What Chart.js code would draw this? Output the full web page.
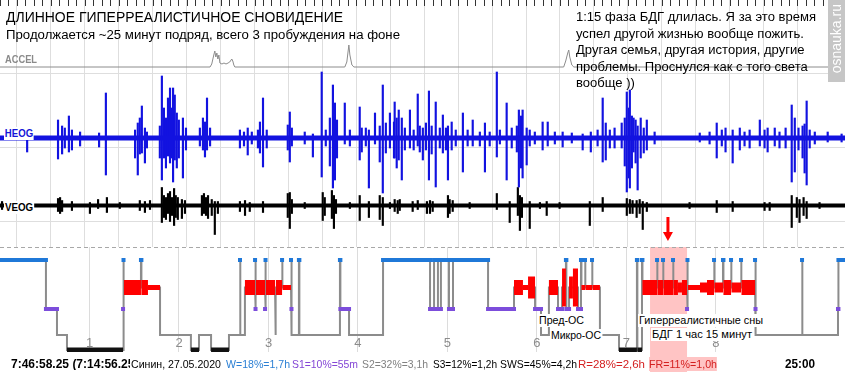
<!DOCTYPE html>
<html>
<head>
<meta charset="utf-8">
<script src="https://cdn.jsdelivr.net/npm/chart.js@4.4.0/dist/chart.umd.min.js"></script>
<style>
body { margin: 0; width: 845px; height: 372px; overflow: hidden; background: #fff; position: relative;
       font-family: "Liberation Sans", Arial, sans-serif; }
canvas { position: absolute; left: 0; }
.t { position: absolute; white-space: nowrap; line-height: 1; transform-origin: 0 0; }
.lab { font-weight: bold; font-size: 11px; line-height: 11px; }
.hl { font-size: 11px; line-height: 13px; background: #fff; padding: 0 1px; }
.bt { font-size: 11px; line-height: 11px; top: 359px; }
#wm { position: absolute; left: 828px; top: 0; width: 17px; height: 82px; background: #c6c6c6; }
#wm span { position: absolute; left: 1px; top: 4px; writing-mode: vertical-rl; transform: rotate(180deg);
           color: #fff; font-size: 14px; line-height: 15px; }
</style>
</head>
<body>
<canvas id="eog" width="845" height="247" style="top:0"></canvas>
<canvas id="hyp" width="845" height="160" style="top:212px"></canvas>

<div class="t" data-w="337" style="left:6px;top:10px;font-size:14px">ДЛИННОЕ ГИПЕРРЕАЛИСТИЧНОЕ СНОВИДЕНИЕ</div>
<div class="t" data-w="394" style="left:6px;top:29px;font-size:12px">Продолжается ~25 минут подряд, всего 3 пробуждения на фоне</div>
<div class="t" data-w="240" style="left:576px;top:9px;font-size:12px;line-height:16.6px">1:15 фаза БДГ длилась. Я за это время<br>успел другой жизнью вообще пожить.<br>Другая семья, другая история, другие<br>проблемы. Проснулся как с того света<br>вообще ))</div>
<div class="t lab" data-w="32" style="left:5px;top:54px;color:#8a8a8a">ACCEL</div>
<div class="t lab" data-w="30" style="left:4px;top:127px;color:#1414d8;background:#fff;padding:1px 1px">HEOG</div>
<div class="t lab" data-w="30" style="left:4px;top:201px;color:#000;background:#fff;padding:1px 1px">VEOG</div>
<div id="wm"><span>osnauka.ru</span></div>

<div class="t hl" data-w="47" style="left:538px;top:314px">Пред-ОС</div>
<div class="t hl" data-w="52" style="left:550px;top:329px">Микро-ОС</div>
<div class="t hl" data-w="126" style="left:638px;top:314px">Гиперреалистичные сны</div>
<div class="t hl" data-w="102" style="left:651px;top:328px">БДГ 1 час 15 минут</div>

<div class="t bt" style="left:11px;width:119px;overflow:hidden;font-weight:bold;font-size:12px;line-height:12px;top:358px">7:46:58.25 (7:14:56.25)</div>
<div class="t bt" data-w="90" style="left:131px;background:#fff">Синин, 27.05.2020</div>
<div class="t bt" data-w="64" style="left:226px;color:#2a7fd4">W=18%=1,7h</div>
<div class="t bt" data-w="66" style="left:292px;color:#8446d6">S1=10%=55m</div>
<div class="t bt" data-w="66" style="left:362px;color:#808080">S2=32%=3,1h</div>
<div class="t bt" data-w="64" style="left:433px;color:#000">S3=12%=1,2h</div>
<div class="t bt" data-w="77" style="left:500px;color:#000">SWS=45%=4,2h</div>
<div class="t bt" data-w="67" style="left:578px;color:#d42020">R=28%=2,6h</div>
<div class="t bt" data-w="68" style="left:649px;color:#d42020;background:#ffc4c4;padding:2px 0 1px 0;top:357px">FR=11%=1,0h</div>
<div class="t bt" data-w="30" style="left:785px;font-weight:bold;font-size:12px;line-height:12px;top:358px">25:00</div>

<script>
// ---- upper window, time in minutes from the window start ----
const WIN = 24.9;
const TICK_STEP = 0.25;   // 15 s marks along the top edge

const accelT   = [0, 6.19, 6.24, 6.30, 6.33, 6.36, 6.39, 6.42, 6.45, 6.48, 6.54, 6.60, 6.66, 6.72, 6.77, 6.83, 6.86, 6.89, 6.92,
                  10.16, 10.22, 10.28, 10.31, 10.37, 10.43, 16.61, 16.67, 16.73, 16.76, 16.79, 16.85, 16.91, 24.9];
const accelAmp = [0, 0, 3, 12, 16, 10, 14, 8, 12, 4, 3, 4, 3, 4, 5, 8, 6, 2, 0,
                  0, 5, 22, 12, 2, 0, 0, 6, 14, 17, 10, 2, 0, 0];

const heogT  = [0.80, 1.71, 1.83, 1.91, 2.03, 2.12, 2.36, 2.92, 3.12, 3.98, 4.06, 4.12, 4.18, 4.27, 4.33, 4.71, 4.77, 4.83, 4.89, 4.95,
                5.01, 5.07, 5.10, 5.15, 5.21, 5.27, 5.39, 5.48, 5.89, 5.98, 6.04, 6.10, 6.19, 7.07, 7.19, 7.30, 7.42, 7.60, 7.66, 7.75,
                7.86, 8.48, 8.54, 8.60, 8.98, 9.22, 9.48, 9.60, 9.72, 9.81, 9.87, 9.93, 10.16, 10.31, 10.60, 10.66, 10.78, 10.87, 11.05, 11.19,
                11.28, 11.37, 11.49, 11.61, 11.63, 11.69, 11.75, 11.84, 11.93, 12.08, 12.19, 12.31, 12.37, 12.46, 12.55, 12.64, 12.72, 12.84, 12.96, 13.05,
                13.14, 13.20, 13.31, 13.43, 13.64, 13.78, 13.93, 14.14, 14.29, 14.43, 14.64, 14.73, 14.93, 15.08, 15.23, 15.29, 15.35, 15.40, 15.52, 15.61,
                15.76, 15.99, 16.14, 16.35, 16.58, 16.85, 17.17, 17.41, 17.61, 17.76, 17.85, 17.97, 18.11, 18.32, 18.41, 18.47, 18.53, 18.56, 18.62, 18.67,
                18.73, 18.79, 18.88, 18.97, 19.06, 19.29, 20.62, 20.91, 21.12, 21.27, 21.38, 21.59, 21.80, 21.94, 22.09, 22.39, 22.53, 22.62, 22.83, 22.97,
                23.15, 23.33, 23.42, 23.53, 23.65, 23.71, 23.77, 23.86, 24.01, 24.39, 24.80];
const heogUp = [4, 18, 12, 10, 22, 8, 6, 5, 45, 8, 15, 20, 32, 10, 6, 12, 62, 30, 20, 40,
                50, 30, 50, 43, 25, 18, 20, 10, 10, 20, 16, 40, 10, 8, 6, 10, 6, 8, 16, 40,
                8, 13, 26, 10, 6, 4, 66, 8, 20, 53, 35, 18, 35, 8, 31, 10, 10, 8, 25, 12,
                53, 15, 25, 16, 36, 20, 28, 20, 10, 28, 8, 44, 12, 10, 15, 47, 12, 36, 10, 23,
                10, 12, 16, 8, 25, 8, 18, 6, 15, 6, 66, 8, 35, 10, 12, 28, 22, 28, 10, 8,
                6, 16, 16, 6, 6, 5, 4, 6, 8, 40, 15, 8, 10, 15, 20, 46, 30, 48, 22, 20,
                18, 12, 20, 10, 18, 6, 5, 6, 15, 8, 10, 8, 10, 6, 8, 18, 8, 10, 10, 6,
                10, 33, 20, 10, 12, 14, 37, 8, 6, 6, 4];
const heogDn = [14, 21, 16, 10, 14, 12, 8, 9, 37, 20, 37, 16, 15, 25, 10, 20, 42, 20, 30, 18,
                25, 20, 44, 22, 30, 20, 40, 12, 8, 12, 19, 12, 8, 10, 8, 17, 6, 10, 15, 29,
                10, 12, 24, 8, 6, 19, 39, 8, 28, 50, 42, 20, 6, 8, 22, 14, 8, 50, 6, 24,
                55, 15, 10, 20, 20, 30, 22, 42, 12, 10, 12, 8, 14, 22, 12, 42, 16, 49, 10, 15,
                12, 42, 12, 8, 34, 8, 8, 8, 34, 8, 19, 6, 42, 10, 14, 49, 30, 40, 27, 8,
                6, 12, 8, 6, 9, 5, 12, 14, 8, 24, 22, 10, 10, 10, 28, 54, 40, 50, 30, 14,
                25, 52, 20, 15, 12, 6, 4, 6, 20, 8, 14, 25, 12, 8, 10, 8, 10, 14, 8, 10,
                10, 44, 34, 12, 20, 35, 47, 10, 6, 4, 4];

const veogT  = [0.06, 1.71, 1.77, 1.83, 2.12, 2.65, 2.89, 3.15, 3.53, 4.12, 4.27, 4.42, 4.77, 4.83, 4.89, 4.95, 5.01, 5.07, 5.13, 5.18,
                5.24, 5.36, 5.45, 5.95, 6.01, 6.07, 6.13, 6.24, 6.33, 6.42, 7.07, 7.22, 7.36, 7.75, 8.48, 8.54, 8.60, 8.98, 9.51, 9.57,
                9.78, 9.84, 9.90, 10.31, 10.60, 10.87, 11.19, 11.28, 11.49, 11.63, 11.72, 11.78, 12.16, 12.31, 12.58, 12.67, 12.75, 13.20, 13.25, 13.34,
                13.84, 14.64, 15.02, 15.26, 15.32, 15.38, 15.61, 15.91, 16.11, 16.49, 17.38, 17.76, 18.47, 18.56, 18.64, 18.76, 18.85, 18.94, 19.06, 20.32,
                21.12, 21.59, 22.53, 22.68, 23.33, 23.48, 23.56, 23.68, 23.77, 24.15];
const veogUp = [4, 7, 8, 5, 4, 3, 6, 8, 3, 5, 4, 5, 18, 10, 8, 12, 14, 8, 17, 10,
                8, 6, 5, 10, 12, 8, 10, 6, 4, 4, 4, 5, 3, 4, 12, 13, 6, 3, 13, 8,
                15, 10, 6, 3, 10, 4, 10, 8, 3, 6, 5, 6, 4, 5, 4, 5, 4, 10, 6, 5,
                3, 12, 4, 18, 10, 8, 4, 3, 4, 3, 4, 8, 7, 6, 5, 5, 6, 4, 3, 3,
                5, 4, 3, 3, 10, 8, 6, 8, 4, 3];
const veogDn = [4, 6, 8, 6, 5, 8, 3, 7, 3, 5, 7, 4, 17, 12, 14, 8, 16, 10, 20, 12,
                14, 13, 8, 10, 8, 10, 13, 10, 29, 8, 6, 10, 6, 7, 12, 23, 8, 3, 15, 10,
                13, 23, 8, 3, 15, 12, 14, 20, 3, 6, 8, 5, 6, 4, 8, 8, 6, 12, 8, 6,
                3, 4, 17, 10, 25, 12, 23, 3, 10, 3, 20, 6, 10, 8, 8, 12, 8, 24, 6, 3,
                7, 6, 5, 5, 22, 12, 17, 10, 13, 3];

// ---- whole night hypnogram, minutes from lights off ----
const HYP_END = 566.5;
const hypStart = [0, 30.8, 38.2, 44.9, 82.5, 82.8, 83.1, 94.5, 94.8, 99.2, 107.3, 128.0, 133.4, 141.5, 153.5, 160.9, 161.2, 164.2, 171.0, 171.3,
                  171.6, 177.7, 178.0, 178.3, 184.4, 185.0, 189.1, 189.4, 195.1, 195.4, 195.7, 200.4, 200.7, 227.9, 228.2, 234.0, 256.8, 288.3, 291.0, 293.6,
                  295.6, 301.0, 303.7, 327.2, 344.6, 350.6, 354.0, 358.7, 362.7, 368.0, 374.1, 376.8, 379.4, 379.7, 381.5, 384.1, 387.5, 389.5, 389.8, 392.2,
                  392.5, 396.9, 397.2, 402.2, 415.0, 427.0, 427.3, 430.4, 430.7, 440.5, 440.8, 444.5, 444.8, 451.2, 451.5, 454.5, 457.2, 460.6, 460.9, 461.2,
                  469.3, 474.0, 478.7, 479.0, 484.7, 485.0, 490.1, 490.4, 496.8, 497.1, 506.2, 506.5, 506.8, 537.7, 538.0, 561.8, 562.1];
// R1..R5 = REM with rising eye-movement density
const hypStage = ['W', 'S1', 'S2', 'S3', 'S1', 'W', 'R3', 'W', 'R3', 'R1', 'S2', 'S3', 'S2', 'S3', 'S2', 'W', 'S2', 'R3', 'W', 'S1',
                  'R3', 'S1', 'W', 'R3', 'S2', 'R3', 'W', 'R1', 'W', 'S1', 'S2', 'W', 'S2', 'W', 'S1', 'S2', 'W', 'S1', 'W', 'S1',
                  'W', 'S1', 'W', 'S1', 'R3', 'R1', 'R4', 'S1', 'S2', 'R3', 'S1', 'R5', 'W', 'S1', 'R4', 'R5', 'S1', 'W', 'R1', 'W',
                  'R1', 'W', 'R1', 'S2', 'S3', 'W', 'S3', 'W', 'R3', 'W', 'R3', 'W', 'R3', 'W', 'R3', 'R2', 'R3', 'S1', 'W', 'R1',
                  'R2', 'R3', 'W', 'R2', 'W', 'R3', 'W', 'R2', 'W', 'R3', 'W', 'S1', 'S2', 'W', 'S2', 'S1', 'W'];
const highlight = [435.8, 460.6];
const arrowAt = 447.8;

// ---- upper chart ----
const BASE = {accel: 67, heog: 138, veog: 205.5};
function spikes(t, up, dn, base) {
  return t.map((v, i) => ({x: v, y: [base - up[i], base + dn[i]]}));
}
function flat(base) { return [{x: 0, y: base}, {x: WIN, y: base}]; }

// 15 s marks along the top edge, placed by the x scale
const topTicks = {
  id: 'topTicks',
  afterDraw(chart) {
    const {ctx, chartArea: a} = chart, s = chart.scales.x;
    ctx.save();
    ctx.setLineDash([]);
    ctx.globalAlpha = 1;
    ctx.globalCompositeOperation = 'source-over';
    ctx.fillStyle = '#333';
    for (let v = 0; v <= WIN; v += TICK_STEP) {
      ctx.fillRect(Math.round(s.getPixelForValue(v)), a.top, 1, 6);
    }
    ctx.restore();
  }
};

new Chart(document.getElementById('eog'), {
  type: 'line',
  data: {
    datasets: [
      {data: accelT.map((t, i) => ({x: t, y: BASE.accel - accelAmp[i]})), borderColor: '#8c8c8c', borderWidth: 1},
      {data: flat(BASE.heog), borderColor: '#1212e0', borderWidth: 5},
      {type: 'bar', data: spikes(heogT, heogUp, heogDn, BASE.heog), backgroundColor: '#1212e0', barThickness: 1.5, grouped: false},
      {data: flat(BASE.veog), borderColor: '#000', borderWidth: 4},
      {type: 'bar', data: spikes(veogT, veogUp, veogDn, BASE.veog), backgroundColor: '#000', barThickness: 1.5, grouped: false}
    ]
  },
  options: {
    responsive: false, animation: false, events: [],
    layout: {padding: 0, autoPadding: false},
    elements: {point: {radius: 0}, line: {tension: 0}},
    plugins: {legend: {display: false}, tooltip: {enabled: false}},
    scales: {
      x: {type: 'linear', min: 0, max: WIN, offset: false,
          ticks: {display: false, stepSize: 1}, grid: {color: '#dedede', drawTicks: false}, border: {display: false},
          afterBuildTicks: s => { s.ticks = s.ticks.filter(t => t.value > 0 && Number.isInteger(t.value)); }},
      y: {type: 'linear', reverse: true, min: 0, max: 247,
          ticks: {display: false}, grid: {color: '#dedede', drawTicks: false}, border: {display: false},
          afterBuildTicks: s => { s.ticks = [73, 147, 221].map(v => ({value: v})); }}
    }
  },
  plugins: [topTicks]
});

// ---- hypnogram ----
const LVL = {W: 13, R: 40.5, S1: 62, S2: 88, S3: 103};
const REM_W = [0, 5, 10, 15, 22, 38];
const segs = hypStart.map((s, i) => {
  const code = hypStage[i];
  const st = code[0] === 'R' ? 'R' : code;
  return {s, e: i + 1 < hypStart.length ? hypStart[i + 1] : HYP_END, st, k: st === 'R' ? +code[1] : 0};
});
const stepPts = [];
segs.forEach(g => stepPts.push({x: g.s, y: LVL[g.st]}, {x: g.e, y: LVL[g.st]}));

function stagePts(st) {
  const pts = [], k = [];
  segs.forEach(g => {
    if (g.st !== st) return;
    const prev = pts.length ? pts[pts.length - 1] : null;
    if (prev && prev.x !== g.s) { pts.push({x: (prev.x + g.s) / 2, y: null}); k.push(0); }
    pts.push({x: g.s, y: LVL[st]}, {x: g.e, y: LVL[st]});
    k.push(g.k, g.k);
  });
  return {pts, k};
}
const wake = stagePts('W'), s1 = stagePts('S1'), s3 = stagePts('S3'), rem = stagePts('R');

const hypDecor = {
  id: 'hypDecor',
  beforeDatasetsDraw(chart) {
    const {ctx, chartArea: a, scales: {x}} = chart;
    ctx.save();
    const x0 = x.getPixelForValue(highlight[0]), x1 = x.getPixelForValue(highlight[1]);
    ctx.fillStyle = '#ffc4c4';
    ctx.fillRect(x0, a.top, x1 - x0, chart.height - a.top);
    ctx.strokeStyle = '#a8a8a8';
    ctx.lineWidth = 1;
    ctx.setLineDash([4, 3]);
    ctx.beginPath();
    ctx.moveTo(a.left, a.top + 0.5);
    ctx.lineTo(a.right, a.top + 0.5);
    ctx.stroke();
    ctx.setLineDash([]);
    ctx.fillStyle = '#8c8c8c';
    ctx.font = '13px "Liberation Sans"';
    ctx.textAlign = 'center';
    ctx.textBaseline = 'middle';
    x.ticks.forEach(t => ctx.fillText(String(t.value / 60), x.getPixelForValue(t.value), a.bottom - 8.5));
    ctx.restore();
  },
  afterDatasetsDraw(chart) {
    const {ctx, chartArea: a, scales: {x}} = chart;
    const ax = x.getPixelForValue(arrowAt);
    ctx.save();
    ctx.strokeStyle = '#ff0000';
    ctx.fillStyle = '#ff0000';
    ctx.lineWidth = 3;
    ctx.beginPath();
    ctx.moveTo(ax, a.top - 30);
    ctx.lineTo(ax, a.top - 14);
    ctx.stroke();
    ctx.beginPath();
    ctx.moveTo(ax - 5, a.top - 15);
    ctx.lineTo(ax + 5, a.top - 15);
    ctx.lineTo(ax, a.top - 6);
    ctx.closePath();
    ctx.fill();
    ctx.restore();
  }
};

const lineBase = {pointRadius: 0, tension: 0, spanGaps: false, borderCapStyle: 'butt', borderJoinStyle: 'miter'};
new Chart(document.getElementById('hyp'), {
  type: 'line',
  data: {
    datasets: [
      {...lineBase, data: rem.pts, borderColor: '#ff0000', borderWidth: 15, order: 0,
       segment: {borderWidth: c => REM_W[rem.k[c.p0DataIndex]] || 5}},
      {...lineBase, data: wake.pts, borderColor: '#1f78d8', borderWidth: 4, borderCapStyle: 'square', order: 1},
      {...lineBase, data: s1.pts, borderColor: '#7c4ddb', borderWidth: 4, borderCapStyle: 'square', order: 2},
      {...lineBase, data: s3.pts, borderColor: '#111', borderWidth: 5, order: 2},
      {...lineBase, data: stepPts, borderColor: '#8c8c8c', borderWidth: 2, order: 5}
    ]
  },
  options: {
    responsive: false, animation: false, events: [],
    layout: {padding: {top: 35, bottom: 20, left: 0, right: 0}, autoPadding: false},
    plugins: {legend: {display: false}, tooltip: {enabled: false}},
    scales: {
      x: {type: 'linear', min: 0, max: HYP_END, offset: false,
          ticks: {display: false, stepSize: 60}, grid: {color: '#dcdcdc', drawTicks: false}, border: {display: false},
          afterBuildTicks: s => { s.ticks = s.ticks.filter(t => t.value > 0 && t.value % 60 === 0); }},
      y: {type: 'linear', reverse: true, min: 0, max: 105, display: false}
    }
  },
  plugins: [hypDecor]
});

// squeeze each text to the width it has in the reference
document.querySelectorAll('[data-w]').forEach(el => {
  const w = el.getBoundingClientRect().width;
  if (w > 0) el.style.transform = 'scaleX(' + (el.dataset.w / w) + ')';
});
</script>
</body>
</html>
